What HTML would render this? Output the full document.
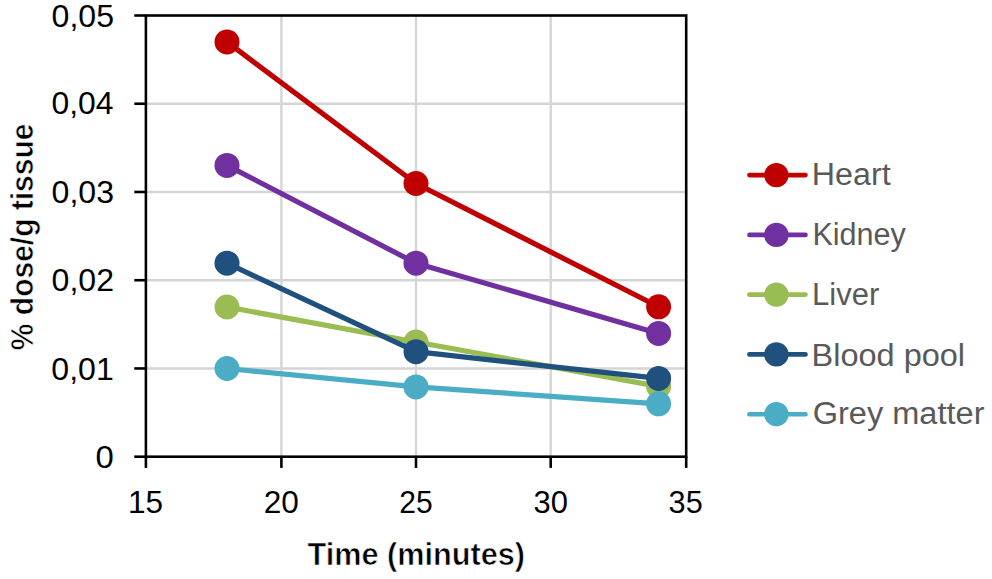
<!DOCTYPE html>
<html><head><meta charset="utf-8"><style>
html,body{margin:0;padding:0;background:#fff;width:992px;height:579px;overflow:hidden}
svg{display:block}
.t{font-family:"Liberation Sans",sans-serif;font-size:31px;fill:#000}
.b{font-family:"Liberation Sans",sans-serif;font-size:31px;font-weight:bold;fill:#000;stroke:#fff;stroke-width:0.6px}
.l{font-family:"Liberation Sans",sans-serif;font-size:31px;fill:#595959}
</style></head><body>
<svg width="992" height="579" viewBox="0 0 992 579">
<line x1="145.9" y1="368.46" x2="686.2" y2="368.46" stroke="#D5D5D5" stroke-width="2.4"/>
<line x1="145.9" y1="280.22" x2="686.2" y2="280.22" stroke="#D5D5D5" stroke-width="2.4"/>
<line x1="145.9" y1="191.98" x2="686.2" y2="191.98" stroke="#D5D5D5" stroke-width="2.4"/>
<line x1="145.9" y1="103.74" x2="686.2" y2="103.74" stroke="#D5D5D5" stroke-width="2.4"/>
<line x1="281.40" y1="15.5" x2="281.40" y2="456.7" stroke="#D5D5D5" stroke-width="2.4"/>
<line x1="416.00" y1="15.5" x2="416.00" y2="456.7" stroke="#D5D5D5" stroke-width="2.4"/>
<line x1="550.70" y1="15.5" x2="550.70" y2="456.7" stroke="#D5D5D5" stroke-width="2.4"/>
<rect x="145.9" y="15.5" width="540.3" height="441.2" fill="none" stroke="#000" stroke-width="2.6"/>
<line x1="134.3" y1="456.70" x2="145.9" y2="456.70" stroke="#000" stroke-width="2.6"/>
<line x1="134.3" y1="368.46" x2="145.9" y2="368.46" stroke="#000" stroke-width="2.6"/>
<line x1="134.3" y1="280.22" x2="145.9" y2="280.22" stroke="#000" stroke-width="2.6"/>
<line x1="134.3" y1="191.98" x2="145.9" y2="191.98" stroke="#000" stroke-width="2.6"/>
<line x1="134.3" y1="103.74" x2="145.9" y2="103.74" stroke="#000" stroke-width="2.6"/>
<line x1="134.3" y1="15.50" x2="145.9" y2="15.50" stroke="#000" stroke-width="2.6"/>
<line x1="145.90" y1="456.7" x2="145.90" y2="467.9" stroke="#000" stroke-width="2.6"/>
<line x1="281.40" y1="456.7" x2="281.40" y2="467.9" stroke="#000" stroke-width="2.6"/>
<line x1="416.00" y1="456.7" x2="416.00" y2="467.9" stroke="#000" stroke-width="2.6"/>
<line x1="550.70" y1="456.7" x2="550.70" y2="467.9" stroke="#000" stroke-width="2.6"/>
<line x1="686.20" y1="456.7" x2="686.20" y2="467.9" stroke="#000" stroke-width="2.6"/>
<polyline points="227.00,41.90 416.00,183.50 658.60,306.80" fill="none" stroke="#C00000" stroke-width="5.2" stroke-linejoin="round"/>
<circle cx="227.00" cy="41.90" r="12.5" fill="#C00000"/>
<circle cx="416.00" cy="183.50" r="12.5" fill="#C00000"/>
<circle cx="658.60" cy="306.80" r="12.5" fill="#C00000"/>
<polyline points="227.00,165.40 416.00,263.20 658.60,333.40" fill="none" stroke="#7030A0" stroke-width="5.2" stroke-linejoin="round"/>
<circle cx="227.00" cy="165.40" r="12.5" fill="#7030A0"/>
<circle cx="416.00" cy="263.20" r="12.5" fill="#7030A0"/>
<circle cx="658.60" cy="333.40" r="12.5" fill="#7030A0"/>
<polyline points="227.00,307.00 416.00,342.00 658.60,386.40" fill="none" stroke="#99BD53" stroke-width="5.2" stroke-linejoin="round"/>
<circle cx="227.00" cy="307.00" r="12.5" fill="#99BD53"/>
<circle cx="416.00" cy="342.00" r="12.5" fill="#99BD53"/>
<circle cx="658.60" cy="386.40" r="12.5" fill="#99BD53"/>
<polyline points="227.00,263.20 416.00,351.70 658.60,378.40" fill="none" stroke="#1F507E" stroke-width="5.2" stroke-linejoin="round"/>
<circle cx="227.00" cy="263.20" r="12.5" fill="#1F507E"/>
<circle cx="416.00" cy="351.70" r="12.5" fill="#1F507E"/>
<circle cx="658.60" cy="378.40" r="12.5" fill="#1F507E"/>
<polyline points="227.00,368.50 416.00,386.90 658.60,403.80" fill="none" stroke="#4BACC6" stroke-width="5.2" stroke-linejoin="round"/>
<circle cx="227.00" cy="368.50" r="12.5" fill="#4BACC6"/>
<circle cx="416.00" cy="386.90" r="12.5" fill="#4BACC6"/>
<circle cx="658.60" cy="403.80" r="12.5" fill="#4BACC6"/>
<line x1="749.4" y1="175.1" x2="805.5" y2="175.1" stroke="#C00000" stroke-width="4.6" stroke-linecap="round"/>
<circle cx="776.4" cy="175.1" r="12.2" fill="#C00000"/>
<line x1="749.4" y1="234.9" x2="805.5" y2="234.9" stroke="#7030A0" stroke-width="4.6" stroke-linecap="round"/>
<circle cx="776.4" cy="234.9" r="12.2" fill="#7030A0"/>
<line x1="749.4" y1="294.6" x2="805.5" y2="294.6" stroke="#99BD53" stroke-width="4.6" stroke-linecap="round"/>
<circle cx="776.4" cy="294.6" r="12.2" fill="#99BD53"/>
<line x1="749.4" y1="354.4" x2="805.5" y2="354.4" stroke="#1F507E" stroke-width="4.6" stroke-linecap="round"/>
<circle cx="776.4" cy="354.4" r="12.2" fill="#1F507E"/>
<line x1="749.4" y1="414.2" x2="805.5" y2="414.2" stroke="#4BACC6" stroke-width="4.6" stroke-linecap="round"/>
<circle cx="776.4" cy="414.2" r="12.2" fill="#4BACC6"/>
<text id="y5" x="51.57" y="26.80" class="t" textLength="62.42" lengthAdjust="spacingAndGlyphs">0,05</text>
<text id="y4" x="51.57" y="113.90" class="t" textLength="61.98" lengthAdjust="spacingAndGlyphs">0,04</text>
<text id="y3" x="51.57" y="202.50" class="t" textLength="62.42" lengthAdjust="spacingAndGlyphs">0,03</text>
<text id="y2" x="51.57" y="290.80" class="t" textLength="62.42" lengthAdjust="spacingAndGlyphs">0,02</text>
<text id="y1" x="51.37" y="379.50" class="t" textLength="62.42" lengthAdjust="spacingAndGlyphs">0,01</text>
<text id="y0" x="95.44" y="468.15" class="t" textLength="18.29" lengthAdjust="spacingAndGlyphs">0</text>
<text id="x15" x="128.06" y="512.60" class="t" textLength="35.13" lengthAdjust="spacingAndGlyphs">15</text>
<text id="x20" x="263.78" y="512.60" class="t" textLength="35.11" lengthAdjust="spacingAndGlyphs">20</text>
<text id="x25" x="399.23" y="512.60" class="t" textLength="33.44" lengthAdjust="spacingAndGlyphs">25</text>
<text id="x30" x="533.60" y="512.60" class="t" textLength="34.38" lengthAdjust="spacingAndGlyphs">30</text>
<text id="x35" x="668.61" y="512.60" class="t" textLength="34.07" lengthAdjust="spacingAndGlyphs">35</text>
<text id="time" x="307.60" y="564.80" class="b" textLength="217.38" lengthAdjust="spacingAndGlyphs">Time (minutes)</text>
<text id="ytitle" transform="translate(33.30,350.17) rotate(-90)" x="0" y="0" class="b" textLength="226.62" lengthAdjust="spacingAndGlyphs">% dose/g tissue</text>
<text id="lh" x="811.82" y="184.80" class="l" textLength="78.78" lengthAdjust="spacingAndGlyphs">Heart</text>
<text id="lk" x="812.43" y="244.90" class="l" textLength="93.37" lengthAdjust="spacingAndGlyphs">Kidney</text>
<text id="ll" x="812.10" y="305.30" class="l" textLength="67.20" lengthAdjust="spacingAndGlyphs">Liver</text>
<text id="lb" x="811.50" y="365.60" class="l" textLength="153.59" lengthAdjust="spacingAndGlyphs">Blood pool</text>
<text id="lg" x="812.65" y="424.40" class="l" textLength="171.84" lengthAdjust="spacingAndGlyphs">Grey matter</text>
</svg>
</body></html>
